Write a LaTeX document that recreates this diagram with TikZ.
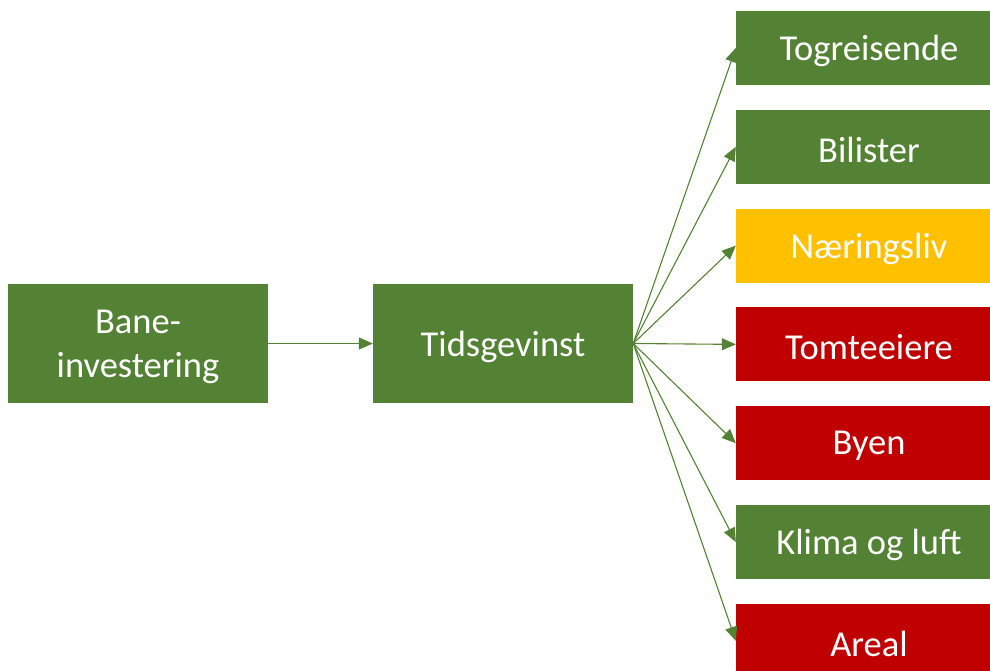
\documentclass[tikz,border=0pt]{standalone}
\usepackage{fontspec}
\setmainfont{Carlito}
\usetikzlibrary{arrows.meta}
\definecolor{bgreen}{HTML}{548235}
\definecolor{byellow}{HTML}{FFC000}
\definecolor{bred}{HTML}{C00000}
\newcommand{\dnshift}[1]{\raisebox{-3pt}[\height][\depth]{#1}}
\tikzset{
  box/.style={fill=#1, draw=none, text=white, inner sep=0pt, align=center,
    font=\fontsize{36.5}{44}\selectfont},
  leftbox/.style={box=bgreen, minimum width=260pt, minimum height=119pt},
  rightbox/.style={box=#1, minimum width=266pt, minimum height=74pt},
  conn/.style={draw=bgreen, line width=1.1pt, -{Triangle[length=14pt,width=12pt]}},
}
\begin{document}
\begin{tikzpicture}[x=1pt,y=-1pt]
\useasboundingbox (0,0) rectangle (990,671);
\clip (0,0) rectangle (990,671);
\node[leftbox] (bane) at (138,343.5) {\dnshift{Bane-}\\\dnshift{investering}};
\node[leftbox] (tid) at (503,343.5) {\dnshift{Tidsgevinst}};
\node[rightbox=bgreen] (r1) at (869,48) {\dnshift{Togreisende}};
\node[rightbox=bgreen] (r2) at (869,146.8) {\dnshift{Bilister}};
\node[rightbox=byellow] (r3) at (869,245.6) {\dnshift{Næringsliv}};
\node[rightbox=bred] (r4) at (869,344.4) {\dnshift{Tomteeiere}};
\node[rightbox=bred] (r5) at (869,443.2) {\dnshift{Byen}};
\node[rightbox=bgreen] (r6) at (869,542) {\dnshift{Klima og luft}};
\node[rightbox=bred] (r7) at (869,640.8) {\dnshift{Areal}};
\draw[conn] (bane.east) -- (tid.west);
\foreach \i in {1,...,7} {
  \draw[conn] (tid.east) -- (r\i.west);
}
\end{tikzpicture}
\end{document}
